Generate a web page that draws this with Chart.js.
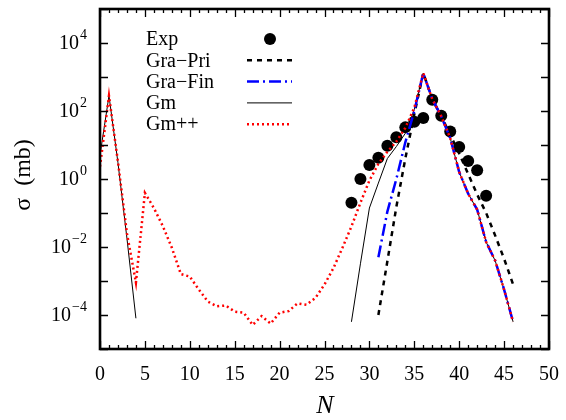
<!DOCTYPE html>
<html>
<head>
<meta charset="utf-8">
<script src="https://cdn.jsdelivr.net/npm/chart.js@4/dist/chart.umd.min.js"></script>
<style>
  body { margin: 0; background: #fff; }
  #sigma-chart { display: block; }
</style>
</head>
<body>
<canvas id="sigma-chart" width="566" height="420"></canvas>
<script>
// neutron number N, one entry per model point
var nValues = [0, 1, 2, 3, 4, 5, 6, 7, 8, 9, 10, 11, 12, 13, 14, 15, 16, 17, 18, 19,
  20, 21, 22, 23, 24, 25, 26, 27, 28, 29, 30, 31, 32, 33, 34, 35, 36, 37, 38, 39,
  40, 41, 42, 43, 44, 45, 46];

// measured cross sections (mb)
var expN = [28, 29, 30, 31, 32, 33, 34, 35, 36, 37, 38, 39, 40, 41, 42, 43];
var expSigma = [0.2, 1.0, 2.6, 4.2, 9.5, 17, 33, 48, 62, 215, 73, 25, 8.7, 3.4, 1.8, 0.32];

// model cross sections (mb), null where a model gives nothing
var graPri = [null, null, null, null, null, null, null, null, null, null,
  null, null, null, null, null, null, null, null, null, null,
  null, null, null, null, null, null, null, null, null, null, null,
  1e-4, 3.8e-3, 0.15, 4, 80, 1300, 225, 70, 20, 5.6, 1.4, 0.35, 0.1, 0.022, 4.5e-3, 8e-4];
var graFin = [null, null, null, null, null, null, null, null, null, null,
  null, null, null, null, null, null, null, null, null, null,
  null, null, null, null, null, null, null, null, null, null, null,
  5e-3, 0.11, 1.0, 12, 100, 1300, 225, 70, 16, 1.6, 0.37, 0.126, 0.014, 4e-3, 5.6e-4, 6.3e-5];
var gm = [5, 280, 3.0, 0.018, 8e-5, null, null, null, null, null,
  null, null, null, null, null, null, null, null, null, null,
  null, null, null, null, null, null, null, null,
  6.3e-5, 3.2e-3, 0.14, 0.76, 4.0, 9, 22, 110, 1300, 225, 70, 16, 1.6, 0.37, 0.126, 0.014, 4e-3, 5.6e-4, 6.3e-5];
var gmPlus = [2.3, 280, 3.2, 0.025, 9e-4, 0.39, 0.14, 0.041, 0.0095, 1.6e-3,
  1.35e-3, 5.6e-4, 2.5e-4, 1.8e-4, 1.9e-4, 1.26e-4, 1.17e-4, 5.1e-5, 9.3e-5, 5.6e-5,
  1.17e-4, 1.3e-4, 2.2e-4, 2.0e-4, 3.2e-4, 7.9e-4, 2.4e-3, 9.5e-3, 0.04, 0.2,
  0.9, 2.8, 6.3, 12.6, 32, 125, 1300, 225, 70, 16, 1.6, 0.37, 0.126, 0.014, 4e-3, 5.6e-4, 6.3e-5];

var xTicks = [0, 5, 10, 15, 20, 25, 30, 35, 40, 45, 50];
var yLabelExps = [-4, -2, 0, 2, 4];

var SERIF = '"Liberation Serif", "Times New Roman", serif';

var toPoints = function(xs, ys) {
  return xs.map(function(x, i) { return { x: x, y: ys[i] }; });
};

var gnuplotFrame = {
  id: "gnuplotFrame",
  afterDatasetsDraw: function(chart) {
    var ctx = chart.ctx, a = chart.chartArea;
    var xs = chart.scales.x, ys = chart.scales.y;
    ctx.save();
    ctx.strokeStyle = "#000";
    ctx.lineWidth = 1.3;
    ctx.beginPath();
    for (var n = 0; n <= 50; n++) {
      var px = Math.round(xs.getPixelForValue(n)) + 0.5;
      var len = n % 5 === 0 ? 8 : 4;
      ctx.moveTo(px, a.bottom); ctx.lineTo(px, a.bottom - len);
      ctx.moveTo(px, a.top); ctx.lineTo(px, a.top + len);
    }
    for (var e = -5; e <= 5; e++) {
      var py = Math.round(ys.getPixelForValue(Math.pow(10, e))) + 0.5;
      ctx.moveTo(a.left, py); ctx.lineTo(a.left + 8, py);
      ctx.moveTo(a.right, py); ctx.lineTo(a.right - 8, py);
    }
    ctx.stroke();

    ctx.lineWidth = 2.6;
    ctx.strokeRect(a.left, a.top, a.right - a.left, a.bottom - a.top);

    ctx.fillStyle = "#000";
    ctx.font = "20px " + SERIF;
    ctx.textAlign = "center";
    ctx.textBaseline = "middle";
    xTicks.forEach(function(t) {
      ctx.fillText(String(t), xs.getPixelForValue(t), a.bottom + 26);
    });

    // decade labels as 10 with a raised exponent
    yLabelExps.forEach(function(e) {
      var py = ys.getPixelForValue(Math.pow(10, e));
      var sup = e < 0 ? "\u2212" + Math.abs(e) : String(e);
      ctx.font = "14px " + SERIF;
      var supW = ctx.measureText(sup).width;
      ctx.textAlign = "left";
      ctx.fillText(sup, 87 - supW, py - 8);
      ctx.font = "20px " + SERIF;
      ctx.textAlign = "right";
      ctx.fillText("10", 86 - supW, py + 1);
    });

    ctx.font = "italic 26px " + SERIF;
    ctx.textAlign = "center";
    ctx.fillText("N", 325, 406);

    ctx.translate(24, 175);
    ctx.rotate(-Math.PI / 2);
    ctx.font = "24px " + SERIF;
    ctx.fillText("\u03c3  (mb)", 0, 0);
    ctx.restore();
  }
};

// key in the top-left corner: name first, sample to its right
var keyBox = {
  id: "keyBox",
  afterDraw: function(chart) {
    var ctx = chart.ctx;
    ctx.save();
    ctx.font = "20px " + SERIF;
    ctx.textBaseline = "middle";
    chart.data.datasets.forEach(function(ds, i) {
      var y = 39 + i * 21.3;
      ctx.fillStyle = "#000";
      ctx.textAlign = "left";
      ctx.fillText(ds.label, 146, y + 1);
      if (ds.showLine === false) {
        ctx.beginPath();
        ctx.arc(270, y, ds.pointRadius, 0, 2 * Math.PI);
        ctx.fill();
      } else {
        ctx.strokeStyle = ds.borderColor;
        ctx.lineWidth = ds.borderWidth;
        ctx.setLineDash(ds.borderDash || []);
        ctx.beginPath();
        ctx.moveTo(247, y);
        ctx.lineTo(292, y);
        ctx.stroke();
      }
    });
    ctx.restore();
  }
};

var chart = new Chart(document.getElementById("sigma-chart").getContext("2d"), {
  type: "line",
  data: {
    datasets: [
      {
        label: "Exp",
        data: toPoints(expN, expSigma),
        showLine: false,
        pointRadius: 6,
        pointBackgroundColor: "#000",
        pointBorderColor: "#000",
        pointBorderWidth: 0,
        order: 5
      },
      {
        label: "Gra\u2212Pri",
        data: toPoints(nValues, graPri),
        borderColor: "#000",
        borderWidth: 2.5,
        borderDash: [5, 5],
        pointRadius: 0,
        order: 4
      },
      {
        label: "Gra\u2212Fin",
        data: toPoints(nValues, graFin),
        borderColor: "#0000ff",
        borderWidth: 2.5,
        borderDash: [12, 4, 2, 4],
        pointRadius: 0,
        order: 2
      },
      {
        label: "Gm",
        data: toPoints(nValues, gm),
        borderColor: "#000",
        borderWidth: 1,
        pointRadius: 0,
        order: 3
      },
      {
        label: "Gm++",
        data: toPoints(nValues, gmPlus),
        borderColor: "#ff0000",
        borderWidth: 2.5,
        borderDash: [2, 3],
        pointRadius: 0,
        order: 1
      }
    ]
  },
  options: {
    responsive: false,
    devicePixelRatio: 1,
    animation: false,
    layout: { padding: { left: 100, right: 17, top: 9, bottom: 71 } },
    scales: {
      x: { type: "linear", min: 0, max: 50, display: false },
      y: { type: "logarithmic", min: 1e-5, max: 1e5, display: false }
    },
    plugins: {
      legend: { display: false },
      tooltip: { enabled: false }
    }
  },
  plugins: [gnuplotFrame, keyBox]
});
</script>
</body>
</html>
